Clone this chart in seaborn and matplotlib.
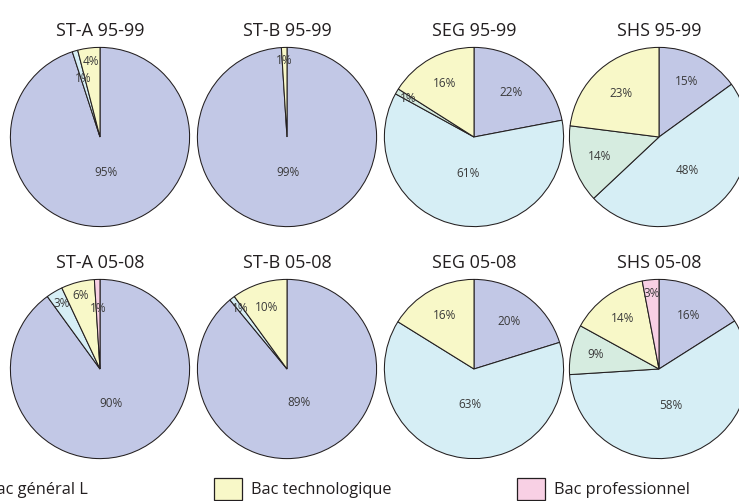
"""
Répartition des bacs d'origine par filière (95-99 vs 05-08) — camemberts.
"""
import numpy as np
import matplotlib
matplotlib.use("Agg")
import matplotlib.pyplot as plt
import seaborn as sns
from matplotlib.patches import Patch

sns.set_theme(style="white")
plt.rcParams["font.family"] = ["Open Sans", "DejaVu Sans"]

# ── Data ───────────────────────────────────────────────────────────────────────
CATEGORIES = ["Bac général S", "Bac général ES", "Bac général L",
              "Bac technologique", "Bac professionnel"]
COLORS = ["#c2c8e6", "#d6eef5", "#d6ece0", "#f8f8c8", "#f8d0e4"]

TITLES = ["ST-A 95-99", "ST-B 95-99", "SEG 95-99", "SHS 95-99",
          "ST-A 05-08", "ST-B 05-08", "SEG 05-08", "SHS 05-08"]

# order of values = CATEGORIES
st_a_95 = [95, 1, 0, 4, 0]
st_b_95 = [99, 0, 0, 1, 0]
seg_95  = [22, 61, 1, 16, 0]
shs_95  = [15, 48, 14, 23, 0]
st_a_05 = [90, 3, 0, 6, 1]
st_b_05 = [89, 1, 0, 10, 0]
seg_05  = [20, 63, 0, 16, 0]
shs_05  = [16, 58, 9, 14, 3]
SERIES = [st_a_95, st_b_95, seg_95, shs_95, st_a_05, st_b_05, seg_05, shs_05]

# ── Layout (pixels) ────────────────────────────────────────────────────────────
W, H = 739, 501
COL_X = [100, 287, 474, 659]
ROW_Y = [137, 369]
R = 90.5
EDGE = "#231f20"


def label_dist(f):
    # big slices -> label near centre, small ones -> near the rim
    if f < 0.07:
        return 0.85
    return max(0.4, 0.78 - 0.6 * f)


fig = plt.figure(figsize=(W / 100, H / 100), dpi=100)

for i, (title, vals) in enumerate(zip(TITLES, SERIES)):
    cx, cy = COL_X[i % 4], ROW_Y[i // 4]
    ax = fig.add_axes([(cx - R) / W, 1 - (cy + R) / H, 2 * R / W, 2 * R / H])
    keep = [(v, c) for v, c in zip(vals, COLORS) if v > 0]
    v_k = [k[0] for k in keep]
    c_k = [k[1] for k in keep]
    wedges, _ = ax.pie(v_k, colors=c_k, startangle=90, counterclock=False,
                       radius=1, wedgeprops=dict(edgecolor=EDGE, linewidth=0.75))
    total = sum(v_k)
    placed = []
    # place labels biggest first, pull a small one inward if it collides
    for j in sorted(range(len(v_k)), key=lambda k: -v_k[k]):
        w, v = wedges[j], v_k[j]
        mid = np.deg2rad((w.theta1 + w.theta2) / 2)
        d = label_dist(v / total)
        x, y = d * np.cos(mid), d * np.sin(mid)
        if any(np.hypot(x - px, y - py) < 0.2 for px, py in placed):
            d = 0.68
            x, y = d * np.cos(mid), d * np.sin(mid)
        placed.append((x, y))
        ax.text(x, y, f"{v}%", ha="center", va="center",
                fontsize=8.5, color="#3a3a3a")
    ax.set_xlim(-1.01, 1.01)
    ax.set_ylim(-1.01, 1.01)
    ax.set_aspect("equal")
    ax.axis("off")
    fig.text(cx / W, 1 - (cy - R - 16) / H, title, ha="center", va="center",
             fontsize=13, color=EDGE)

# ── Legend (one row, partly outside the crop) ─────────────────────────────────
handles = [Patch(facecolor=c, edgecolor=EDGE, linewidth=0.9) for c in COLORS]
fig.legend(handles, CATEGORIES, loc="upper right", ncol=5, frameon=False,
           bbox_to_anchor=(690 / W, 1 - 478 / H), borderaxespad=0, borderpad=0,
           fontsize=11.8, handlelength=1.7, handleheight=1.7, handletextpad=0.55,
           columnspacing=7.7, labelcolor=EDGE)

fig.savefig("out.png", dpi=100)
